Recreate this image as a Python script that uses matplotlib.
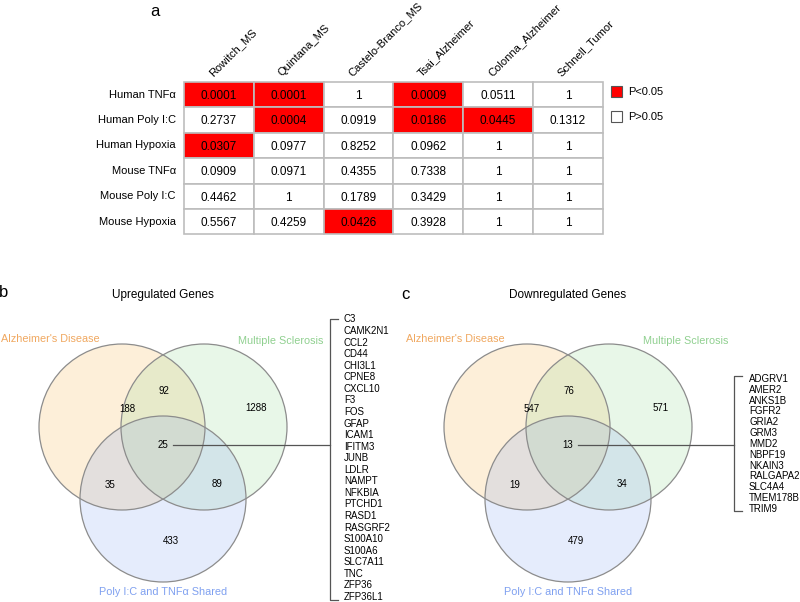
import matplotlib
matplotlib.use("Agg")
import matplotlib.pyplot as plt
from matplotlib.patches import Rectangle, Circle

plt.rcParams['font.family'] = ['Liberation Sans', 'DejaVu Sans']

# ---------------- data ----------------
row_labels = ["Human TNFα", "Human Poly I:C", "Human Hypoxia",
              "Mouse TNFα", "Mouse Poly I:C", "Mouse Hypoxia"]
col_labels = ["Rowitch_MS", "Quintana_MS", "Castelo-Branco_MS",
              "Tsai_Alzheimer", "Colonna_Alzheimer", "Schnell_Tumor"]
pvalues = [
    [0.0001, 0.0001, 1, 0.0009, 0.0511, 1],
    [0.2737, 0.0004, 0.0919, 0.0186, 0.0445, 0.1312],
    [0.0307, 0.0977, 0.8252, 0.0962, 1, 1],
    [0.0909, 0.0971, 0.4355, 0.7338, 1, 1],
    [0.4462, 1, 0.1789, 0.3429, 1, 1],
    [0.5567, 0.4259, 0.0426, 0.3928, 1, 1],
]
threshold = 0.05
legend_labels = ["P<0.05", "P>0.05"]

set_names = ["Alzheimer's Disease", "Multiple Sclerosis", "Poly I:C and TNFα Shared"]
# region order: A only, AB, B only, AC, ABC, BC, C only
up_counts = [188, 92, 1288, 35, 25, 89, 433]
down_counts = [547, 76, 571, 19, 13, 34, 479]
up_genes = ["C3", "CAMK2N1", "CCL2", "CD44", "CHI3L1", "CPNE8", "CXCL10", "F3",
            "FOS", "GFAP", "ICAM1", "IFITM3", "JUNB", "LDLR", "NAMPT", "NFKBIA",
            "PTCHD1", "RASD1", "RASGRF2", "S100A10", "S100A6", "SLC7A11", "TNC",
            "ZFP36", "ZFP36L1"]
down_genes = ["ADGRV1", "AMER2", "ANKS1B", "FGFR2", "GRIA2", "GRM3", "MMD2",
              "NBPF19", "NKAIN3", "RALGAPA2", "SLC4A4", "TMEM178B", "TRIM9"]

# ---------------- figure ----------------
fig = plt.figure(figsize=(8, 6.02), dpi=100)
ax = fig.add_axes([0, 0, 1, 1])
ax.set_xlim(0, 800)
ax.set_ylim(602, 0)
ax.axis('off')

# ----- panel a: table -----
x0, y0 = 184, 82
cw, rh = 69.8, 25.4
grid_col = "#bdbdbd"
for i, rl in enumerate(row_labels):
    ax.text(x0 - 8, y0 + (i + 0.5) * rh, rl, ha='right', va='center', fontsize=8)
    for j, p in enumerate(pvalues[i]):
        fc = "#ff0000" if p < threshold else "white"
        ax.add_patch(Rectangle((x0 + j * cw, y0 + i * rh), cw, rh,
                               facecolor=fc, edgecolor=grid_col, lw=1.2))
        txt = "1" if p == 1 else f"{p:.4f}"
        ax.text(x0 + (j + 0.5) * cw, y0 + (i + 0.55) * rh, txt,
                ha='center', va='center', fontsize=8.5)
for j, cl in enumerate(col_labels):
    ax.text(x0 + (j + 0.5) * cw - 5, y0 - 4, cl, rotation=45,
            rotation_mode='anchor', ha='left', va='bottom', fontsize=8)

# legend
for k, (lab, fc) in enumerate(zip(legend_labels, ["#ff0000", "white"])):
    ax.add_patch(Rectangle((611, 86 + k * 25), 11, 11, facecolor=fc,
                           edgecolor="#555555", lw=0.8))
    ax.text(628, 92 + k * 25, lab, ha='left', va='center', fontsize=8)

ax.text(155, 12, "a", fontsize=12, ha='center', va='center')

# ----- panels b, c: Venn -----
fill_cols = ["#f5b041", "#8fd88f", "#7fa0f0"]
text_cols = ["#f0a860", "#90d090", "#7fa0f0"]


def venn(cx, title, counts, genes, bx, gx, gy0, gstep, bt, bb):
    centers = [(cx - 41, 427), (cx + 41, 427), (cx, 499)]
    r = 83
    for (ccx, ccy), fc in zip(centers, fill_cols):
        ax.add_patch(Circle((ccx, ccy), r, facecolor=fc, alpha=0.2,
                            edgecolor='none'))
    for (ccx, ccy) in centers:
        ax.add_patch(Circle((ccx, ccy), r, facecolor='none',
                            edgecolor="#8c8c8c", lw=0.9))
    offs = [(-36, -18), (1, -36), (93, -19), (-53, 58), (0, 18), (54, 57), (8, 114)]
    for (dx, dy), c in zip(offs, counts):
        ax.text(cx + dx, 427 + dy, str(c), ha='center', va='center', fontsize=7)
    # labels
    ax.text(cx - 113, 339, set_names[0], color=text_cols[0], ha='center',
            va='center', fontsize=7.8)
    ax.text(cx + 118, 341, set_names[1], color=text_cols[1], ha='center',
            va='center', fontsize=7.8)
    ax.text(cx, 592, set_names[2], color=text_cols[2], ha='center',
            va='center', fontsize=7.8)
    ax.text(cx, 295, title, ha='center', va='center', fontsize=8.5)
    # bracket
    ax.plot([cx + 10, bx], [445, 445], color="#555555", lw=0.9)
    ax.plot([bx + 8, bx, bx, bx + 8], [bt, bt, bb, bb], color="#555555", lw=0.9)
    for k, g in enumerate(genes):
        ax.text(gx, gy0 + k * gstep, g, ha='left', va='center', fontsize=7)


venn(163, "Upregulated Genes", up_counts, up_genes, 330, 344, 319.5, 11.56, 318.5, 600)
venn(568, "Downregulated Genes", down_counts, down_genes, 734, 749, 379, 10.83, 376, 511)

ax.text(4, 297, "b", fontsize=12, ha='center', va='baseline')
ax.text(405, 299, "c", fontsize=12, ha='center', va='baseline')

fig.savefig("out.png", dpi=100)
